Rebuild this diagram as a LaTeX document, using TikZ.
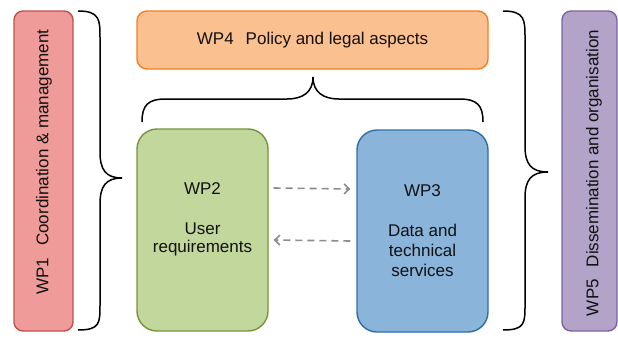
\documentclass[tikz,border=0pt]{standalone}
\usepackage{fontspec}
\setmainfont{Liberation Sans}
\usetikzlibrary{arrows.meta}
\definecolor{redfill}{HTML}{EE9B99}
\definecolor{redline}{HTML}{C0504D}
\definecolor{orangefill}{HTML}{FBC08F}
\definecolor{orangeline}{HTML}{F57F20}
\definecolor{greenfill}{HTML}{C2D79B}
\definecolor{greenline}{HTML}{77933C}
\definecolor{bluefill}{HTML}{8AB4DA}
\definecolor{blueline}{HTML}{2F6EA5}
\definecolor{purplefill}{HTML}{B4A3C8}
\definecolor{purpleline}{HTML}{7E63A1}
\definecolor{txt}{HTML}{111111}
\definecolor{arrowgray}{HTML}{8C8C8C}
\tikzset{
  wpbox/.style={draw, line width=1.4pt, inner sep=0pt, text=txt, align=center,
    font=\fontsize{17}{20}\selectfont},
  brace/.style={draw=black, line width=1.5pt},
  flow/.style={draw=arrowgray, line width=1.6pt, dash pattern=on 7pt off 5pt,
    -{Straight Barb[length=5pt,width=10pt,line width=1.6pt]}},
  vtext/.style={rotate=90, text=txt, font=\fontsize{17}{20}\selectfont}
}
\begin{document}
\begin{tikzpicture}[x=1pt,y=-1pt]
\useasboundingbox (0,0) rectangle (618,340);
% boxes
\node[wpbox, fill=redfill, draw=redline, rounded corners=9pt,
  minimum width=59pt, minimum height=320pt] (wp1) at (43.5,171) {};
\node[vtext] (wp1t) at (44,162) {WP1\hspace{12pt}Coordination \& management};
\node[wpbox, fill=orangefill, draw=orangeline, rounded corners=10pt,
  minimum width=351pt, minimum height=58pt] (wp4) at (312.5,40)
  {WP4\hspace{12pt}Policy and legal aspects};
\node[wpbox, fill=greenfill, draw=greenline, rounded corners=20pt,
  minimum width=131pt, minimum height=202pt] (wp2) at (202.5,230)
  {WP2\\[20pt]User\\[-2pt]requirements\\[-2pt]\strut};
\node[wpbox, fill=bluefill, draw=blueline, rounded corners=20pt,
  minimum width=131pt, minimum height=202pt] (wp3) at (422.5,231)
  {WP3\\[20pt]Data and\\technical\\services};
\node[wpbox, fill=purplefill, draw=purpleline, rounded corners=9pt,
  minimum width=55pt, minimum height=320pt] (wp5) at (589.5,171) {};
\node[vtext] (wp5t) at (594,173) {WP5\hspace{12pt}Dissemination and organisation};
% arrows
\draw[flow] ([shift={(5,-42)}]wp2.east) -- ([shift={(-6,-42)}]wp3.west);
\draw[flow] ([shift={(-6,10)}]wp3.west) -- ([shift={(5,10)}]wp2.east);
% braces
\draw[brace] (78,11) .. controls (100,11) and (100,20) .. (100,38) -- (100,152)
  .. controls (100,170) and (106,178) .. (122,178)
  .. controls (106,178) and (100,186) .. (100,204) -- (100,305)
  .. controls (100,323) and (100,330) .. (78,330);
\draw[brace] (503,11) .. controls (525,11) and (525,20) .. (525,38) -- (525,146)
  .. controls (525,164) and (531,172) .. (548,172)
  .. controls (531,172) and (525,180) .. (525,198) -- (525,305)
  .. controls (525,323) and (525,330) .. (503,330);
\draw[brace] (142,122) .. controls (142,105) and (148,99) .. (166,99) -- (287,99)
  .. controls (303,99) and (313,92) .. (313,77)
  .. controls (313,92) and (323,99) .. (339,99) -- (459,99)
  .. controls (477,99) and (483,105) .. (483,122);
\end{tikzpicture}
\end{document}
